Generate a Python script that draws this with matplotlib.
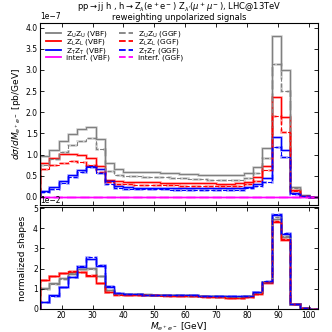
import numpy as np
import matplotlib
matplotlib.use('Agg')
import matplotlib.pyplot as plt

plt.rcParams['font.size'] = 5.5
plt.rcParams['xtick.direction'] = 'in'
plt.rcParams['ytick.direction'] = 'in'
plt.rcParams['xtick.top'] = True
plt.rcParams['ytick.right'] = True

# bin edges of M_ee [GeV]
edges = np.arange(13, 104, 3)

# top panel: dsigma/dM [1e-7 pb/GeV]
uu_vbf = [0.96, 1.12, 1.32, 1.48, 1.60, 1.65, 1.37, 0.81, 0.65,
          0.60, 0.59, 0.58, 0.58, 0.57, 0.56, 0.55, 0.54, 0.53, 0.52, 0.52, 0.52, 0.53,
          0.57, 0.70, 1.15, 3.81, 3.00, 0.24, 0.04, 0.01]
uu_ggf = [0.75, 0.90, 1.05, 1.22, 1.33, 1.39, 1.14, 0.62, 0.52,
          0.50, 0.49, 0.48, 0.47, 0.46, 0.45, 0.44, 0.43, 0.42, 0.41, 0.40, 0.40, 0.41,
          0.45, 0.56, 0.93, 3.14, 2.51, 0.20, 0.03, 0.01]
ll_vbf = [0.81, 0.93, 1.01, 1.02, 0.99, 0.92, 0.72, 0.41, 0.37,
          0.36, 0.36, 0.35, 0.35, 0.34, 0.34, 0.33, 0.33, 0.32, 0.32, 0.31, 0.31, 0.32,
          0.36, 0.46, 0.72, 2.37, 1.88, 0.17, 0.03, 0.005]
ll_ggf = [0.65, 0.75, 0.81, 0.85, 0.83, 0.75, 0.58, 0.35, 0.30,
          0.30, 0.29, 0.29, 0.28, 0.28, 0.28, 0.27, 0.27, 0.26, 0.26, 0.26, 0.26, 0.27,
          0.30, 0.38, 0.64, 1.92, 1.53, 0.14, 0.02, 0.005]
tt_vbf = [0.14, 0.23, 0.37, 0.52, 0.64, 0.73, 0.65, 0.37, 0.25,
          0.23, 0.22, 0.22, 0.21, 0.21, 0.21, 0.20, 0.20, 0.20, 0.20, 0.20, 0.20, 0.21,
          0.24, 0.30, 0.44, 1.41, 1.11, 0.09, 0.02, 0.005]
tt_ggf = [0.11, 0.19, 0.33, 0.46, 0.60, 0.70, 0.56, 0.31, 0.21,
          0.19, 0.19, 0.18, 0.18, 0.18, 0.17, 0.17, 0.17, 0.17, 0.17, 0.17, 0.17, 0.17,
          0.20, 0.25, 0.36, 1.19, 0.95, 0.08, 0.02, 0.005]
int_vbf = [-0.005] * 24 + [0.0, 0.01, 0.005, 0.0, 0.0, 0.0]
int_ggf = [0.0] * 30

# bottom panel: normalized shapes [1e-2]
uu_vbf_n = [1.06, 1.28, 1.51, 1.73, 1.98, 2.02, 1.61, 0.94, 0.76,
            0.74, 0.73, 0.72, 0.71, 0.70, 0.69, 0.68, 0.67, 0.65, 0.64, 0.62, 0.61, 0.61,
            0.65, 0.80, 1.33, 4.48, 3.55, 0.27, 0.04, 0.01]
uu_ggf_n = [1.00, 1.24, 1.48, 1.76, 1.96, 2.00, 1.63, 0.92, 0.75,
            0.73, 0.72, 0.71, 0.70, 0.69, 0.68, 0.67, 0.66, 0.64, 0.63, 0.61, 0.60, 0.60,
            0.64, 0.80, 1.35, 4.55, 3.60, 0.27, 0.04, 0.01]
ll_vbf_n = [1.45, 1.61, 1.78, 1.85, 1.82, 1.65, 1.28, 0.84, 0.72,
            0.71, 0.70, 0.69, 0.68, 0.67, 0.66, 0.65, 0.63, 0.62, 0.60, 0.58, 0.56, 0.56,
            0.60, 0.75, 1.30, 4.33, 3.43, 0.26, 0.04, 0.01]
ll_ggf_n = [1.42, 1.62, 1.76, 1.86, 1.84, 1.66, 1.30, 0.82, 0.71,
            0.70, 0.69, 0.68, 0.67, 0.66, 0.65, 0.64, 0.62, 0.61, 0.59, 0.57, 0.56, 0.56,
            0.60, 0.74, 1.32, 4.38, 3.48, 0.26, 0.04, 0.01]
tt_vbf_n = [0.37, 0.67, 1.08, 1.56, 2.07, 2.49, 2.15, 1.11, 0.77,
            0.74, 0.72, 0.71, 0.70, 0.70, 0.69, 0.68, 0.67, 0.66, 0.65, 0.63, 0.62, 0.62,
            0.66, 0.82, 1.36, 4.65, 3.69, 0.27, 0.04, 0.01]
tt_ggf_n = [0.36, 0.66, 1.08, 1.58, 2.12, 2.55, 2.18, 1.12, 0.77,
            0.74, 0.72, 0.71, 0.70, 0.70, 0.69, 0.68, 0.67, 0.66, 0.65, 0.63, 0.62, 0.62,
            0.66, 0.84, 1.38, 4.70, 3.74, 0.27, 0.04, 0.01]

labels_vbf = [r'Z$_\mathrm{U}$Z$_\mathrm{U}$ (VBF)', r'Z$_\mathrm{L}$Z$_\mathrm{L}$ (VBF)',
              r'Z$_\mathrm{T}$Z$_\mathrm{T}$ (VBF)', 'interf. (VBF)']
labels_ggf = [r'Z$_\mathrm{U}$Z$_\mathrm{U}$ (GGF)', r'Z$_\mathrm{L}$Z$_\mathrm{L}$ (GGF)',
              r'Z$_\mathrm{T}$Z$_\mathrm{T}$ (GGF)', 'interf. (GGF)']
colors = ['gray', 'red', 'blue', 'magenta']

fig = plt.figure(figsize=(3.32, 3.32), dpi=100)
ax1 = fig.add_axes([0.1205, 0.3825, 0.8375, 0.5485])
ax2 = fig.add_axes([0.1205, 0.0693, 0.8375, 0.3072], sharex=ax1)


def draw(ax, vals, color, ls, label=None):
    vals = np.asarray(vals, dtype=float)
    # light wide line underneath, thin line on top
    ax.stairs(vals, edges, color=color, lw=1.8, alpha=0.4, ls=ls)
    ax.stairs(vals, edges, color=color, lw=0.8, ls=ls, label=label)


top_vbf = [uu_vbf, ll_vbf, tt_vbf, int_vbf]
top_ggf = [uu_ggf, ll_ggf, tt_ggf, int_ggf]
for v, c, l in zip(top_vbf, colors, labels_vbf):
    draw(ax1, np.array(v) * 1e-7, c, '-', l)
for v, c, l in zip(top_ggf, colors, labels_ggf):
    draw(ax1, np.array(v) * 1e-7, c, '--', l)

bot_vbf = [uu_vbf_n, ll_vbf_n, tt_vbf_n]
bot_ggf = [uu_ggf_n, ll_ggf_n, tt_ggf_n]
for v, c in zip(bot_vbf, colors):
    draw(ax2, np.array(v) * 1e-2, c, '-')
for v, c in zip(bot_ggf, colors):
    draw(ax2, np.array(v) * 1e-2, c, '--')

ax1.set_xlim(13, 103)
ax1.set_ylim(-0.19e-7, 4.11e-7)
ax2.set_ylim(0, 5.05e-2)
ax1.set_yticks(np.arange(0, 4.01, 0.5) * 1e-7)
ax2.set_yticks(np.arange(0, 5.01, 1) * 1e-2)
ax1.tick_params(labelbottom=False)
ax1.ticklabel_format(axis='y', style='sci', scilimits=(0, 0))
ax2.ticklabel_format(axis='y', style='sci', scilimits=(0, 0))
for ax in (ax1, ax2):
    ax.tick_params(length=3, width=0.6, labelsize=5.5, pad=1.5)
    for s in ax.spines.values():
        s.set_linewidth(0.8)

ax1.set_ylabel(r'$d\sigma/dM_{e^+e^-}$ [pb/GeV]', fontsize=6.5, labelpad=2)
ax2.set_ylabel('normalized shapes', fontsize=6.5, labelpad=4)
ax2.set_xlabel(r'$M_{e^+e^-}$ [GeV]', fontsize=6.5, labelpad=0.5)
ax1.set_title('pp$\\to$jj h , h$\\to$Z$_\\lambda$(e$^+$e$^-$) Z$_{\\lambda\'}$($\\mu^+\\mu^-$), LHC@13TeV\n'
              'reweighting unpolarized signals', fontsize=6.0, pad=2, linespacing=0.9)

leg = ax1.legend(ncol=2, loc='upper left', frameon=False, fontsize=5.3,
                 handlelength=2.0, handletextpad=0.7, columnspacing=1.2,
                 labelspacing=-0.2, borderaxespad=0.4)
for h in leg.legend_handles:
    h.set_linewidth(1.3)

plt.savefig('out.png', dpi=100)
